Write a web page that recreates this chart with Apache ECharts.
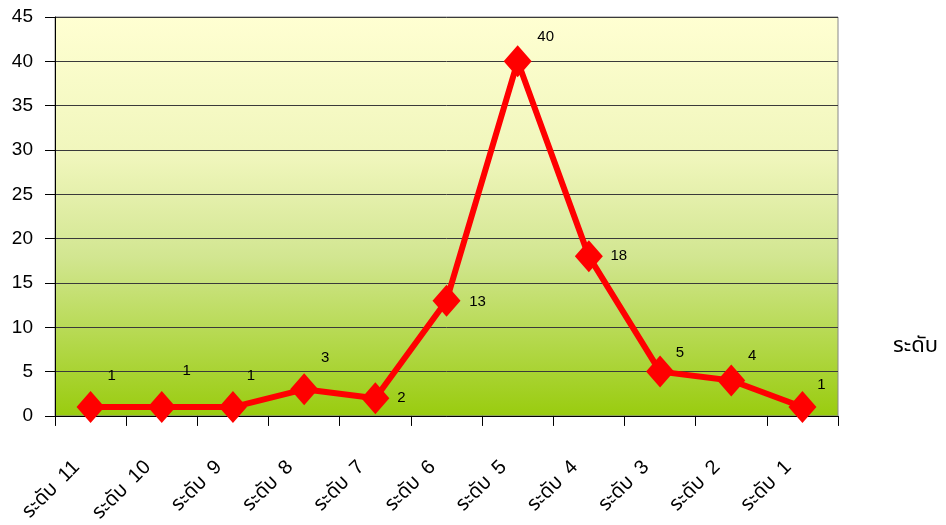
<!DOCTYPE html>
<html><head><meta charset="utf-8">
<script src="https://cdn.jsdelivr.net/npm/echarts@6/dist/echarts.min.js"></script>
<style>html,body{margin:0;padding:0;background:#fff}#c{width:946px;height:525px}</style>
</head><body><div id="c"></div>
<script>
const categories = ['ระดับ 11','ระดับ 10','ระดับ 9','ระดับ 8','ระดับ 7','ระดับ 6','ระดับ 5','ระดับ 4','ระดับ 3','ระดับ 2','ระดับ 1'];
const values = [1,1,1,3,2,13,40,18,5,4,1];
const yTicks = {min:0, max:45, interval:5};
const axisName = 'ระดับ';
// label offsets (style only)
const labelOffsets = [[21,-31],[25,-36],[18,-31],[21,-31],[26,0],[31,1],[28,-24],[30,0],[20,-19],[21,-25],[19,-22]];

const chart = echarts.init(document.getElementById('c'));
const FONT = '"Liberation Sans", Arial, "Noto Sans Thai", "Noto Sans", sans-serif';
chart.setOption({
  animation:false,
  title:{text:axisName, left:888, top:330, textStyle:{fontSize:22, fontWeight:'normal', color:'#000', fontFamily:FONT}},
  grid:{left:55, right:108, top:17, bottom:108, show:true, borderColor:'#888', borderWidth:1,
    backgroundColor:{type:'linear',x:0,y:0,x2:0,y2:1,colorStops:[
      {offset:0,color:'#FFFFD2'},{offset:0.35,color:'#F0F6BC'},{offset:0.6,color:'#D2E691'},{offset:1,color:'#99CC0E'}]}},
  xAxis:{type:'category', data:categories, boundaryGap:true,
    axisLine:{lineStyle:{color:'#000',width:1}},
    axisTick:{show:true, length:10, lineStyle:{color:'#000'}},
    axisLabel:{rotate:45, fontSize:20, color:'#000', fontFamily:FONT, margin:34,
      formatter:(v)=>v.replace(' ', '\u2002') + '\u2002\u2002'}},
  yAxis:{type:'value', min:yTicks.min, max:yTicks.max, interval:yTicks.interval,
    axisLine:{show:true, lineStyle:{color:'#000',width:1}},
    axisTick:{show:true, length:10, lineStyle:{color:'#000'}},
    axisLabel:{fontSize:19, color:'#000', fontFamily:FONT, margin:22},
    splitLine:{lineStyle:{color:'#3a3a3a',width:1}}},
  series:[{type:'line', data:values.map((v,i)=>({value:v, label:{offset:labelOffsets[i]}})),
    lineStyle:{color:'#FF0000', width:6},
    itemStyle:{color:'#FF0000'},
    symbol:'diamond', symbolSize:[28,32],
    label:{show:true, position:'inside', fontSize:15, color:'#000', fontFamily:FONT}}]
});
</script></body></html>
